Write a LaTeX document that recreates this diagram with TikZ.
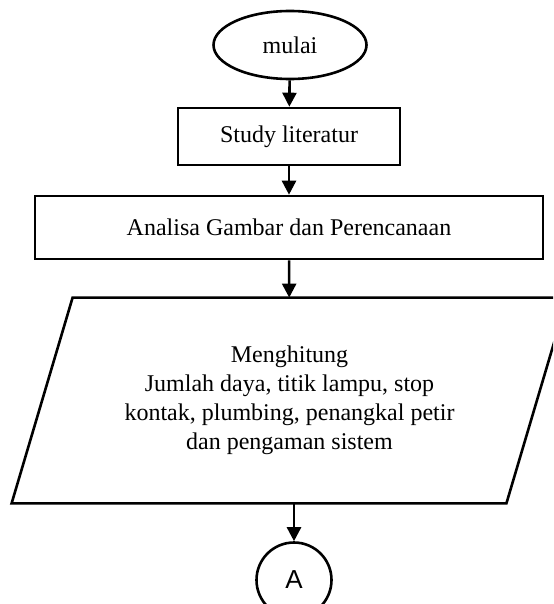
\documentclass[tikz,border=0pt]{standalone}
\usepackage{fontspec}
\setmainfont{Liberation Serif}
\newfontfamily\arialfont{Liberation Sans}
\usepackage{tikz}
\usetikzlibrary{arrows.meta, positioning, shapes.geometric}

\begin{document}
\begin{tikzpicture}[
  x=0.5pt, y=-0.5pt,
  font=\fontsize{12}{14.5}\selectfont,
  >={Triangle[length=7pt, width=7pt]},
  flow/.style={->, line width=1.3pt},
  termbox/.style={draw, ellipse, line width=1.3pt, minimum width=76.5pt, minimum height=34pt, inner sep=0pt},
  pbox/.style={draw, line width=1.3pt, align=center, inner sep=0pt},
  iobox/.style={align=center, inner sep=0pt, minimum width=247pt, minimum height=102.5pt},
  conn/.style={draw, circle, line width=1.3pt, minimum size=37.5pt, inner sep=0pt, font=\arialfont\fontsize{13}{15}\selectfont},
]
  \useasboundingbox (0,0) rectangle (553,604);
  \clip (0,0) rectangle (553,604);
  % start and process boxes
  \node[termbox] (mulai) at (290, 45) {mulai};
  \node[pbox, minimum width=111pt, minimum height=28.5pt] (study) at (289, 136.5) {Study literatur};
  \node[pbox, minimum width=254pt, minimum height=31.5pt] (analisa) at (289, 227.5) {Analisa Gambar dan Perencanaan};
  % input/output block
  \node[iobox] (hitung) at (289.5, 400.5) {Menghitung\\ Jumlah daya, titik lampu, stop\\ kontak, plumbing, penangkal petir\\ dan pengaman sistem};
  \draw[line width=1.3pt, line join=miter]
    ([xshift=-15.25pt]hitung.south west) -- ([xshift=15.25pt]hitung.north west)
    -- ([xshift=15.25pt]hitung.north east) -- ([xshift=-15.25pt]hitung.south east) -- cycle;
  % off-page connector
  \node[conn] (lanjut) at (294, 580) {A};
  \draw[flow] (mulai) -- (study);
  \draw[flow] (study) -- (analisa);
  \draw[flow] (analisa) -- (hitung);
  \draw[flow] (hitung.south -| lanjut.north) -- (lanjut);
\end{tikzpicture}
\end{document}
